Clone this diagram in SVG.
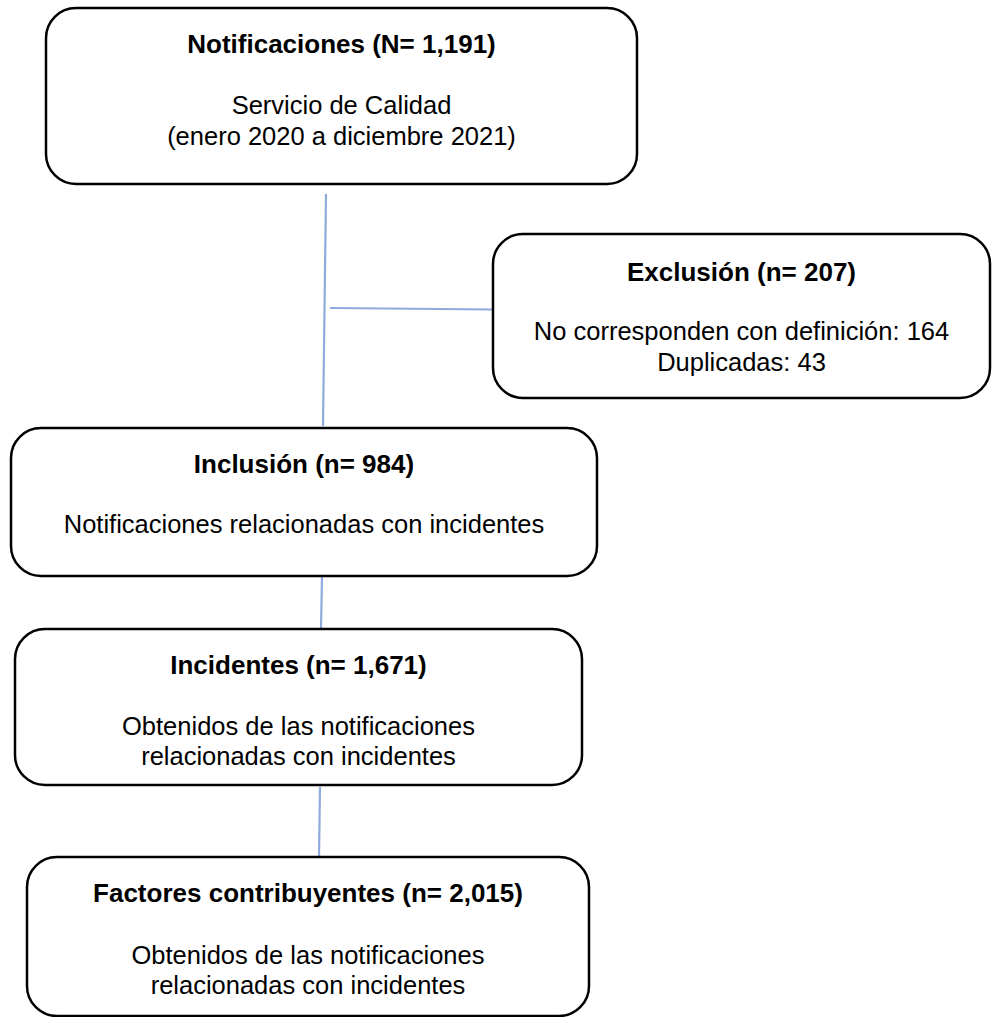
<svg xmlns="http://www.w3.org/2000/svg" width="995" height="1017" viewBox="0 0 995 1017">
<style>
.box{fill:#fff;stroke:#000;stroke-width:2.5}
.t{font-family:"Liberation Sans",Arial,sans-serif;font-size:26px;font-weight:bold;fill:#000;text-anchor:middle}
.s{font-family:"Liberation Sans",Arial,sans-serif;font-size:25.5px;fill:#000;text-anchor:middle}
.c{stroke:#8FAADC;stroke-width:2.2;fill:none}
</style>
<rect width="995" height="1017" fill="#fff"/>
<g id="connectors">
<line class="c" x1="326" y1="194" x2="323" y2="426"/>
<line class="c" x1="330" y1="308" x2="492" y2="309.5"/>
<line class="c" x1="322" y1="577" x2="321" y2="628"/>
<line class="c" x1="320" y1="787" x2="319" y2="856"/>
</g>
<g id="notificaciones">
<rect class="box" x="46" y="8" width="591" height="176" rx="30"/>
<text class="t" x="341.5" y="53">Notificaciones (N= 1,191)</text>
<text class="s" x="341.5" y="114">Servicio de Calidad</text>
<text class="s" x="341.5" y="145">(enero 2020 a diciembre 2021)</text>
</g>
<g id="exclusion">
<rect class="box" x="493" y="234" width="497" height="164" rx="30"/>
<text class="t" x="741.5" y="281">Exclusión (n= 207)</text>
<text class="s" x="741.5" y="340">No corresponden con definición: 164</text>
<text class="s" x="741.5" y="371">Duplicadas: 43</text>
</g>
<g id="inclusion">
<rect class="box" x="11" y="428" width="586" height="148" rx="30"/>
<text class="t" x="304" y="473">Inclusión (n= 984)</text>
<text class="s" x="304" y="533">Notificaciones relacionadas con incidentes</text>
</g>
<g id="incidentes">
<rect class="box" x="15" y="629" width="567" height="156" rx="30"/>
<text class="t" x="298.5" y="674">Incidentes (n= 1,671)</text>
<text class="s" x="298.5" y="735">Obtenidos de las notificaciones</text>
<text class="s" x="298.5" y="765">relacionadas con incidentes</text>
</g>
<g id="factores">
<rect class="box" x="27" y="857" width="562" height="159" rx="30"/>
<text class="t" x="308" y="902">Factores contribuyentes (n= 2,015)</text>
<text class="s" x="308" y="964">Obtenidos de las notificaciones</text>
<text class="s" x="308" y="994">relacionadas con incidentes</text>
</g>
</svg>
